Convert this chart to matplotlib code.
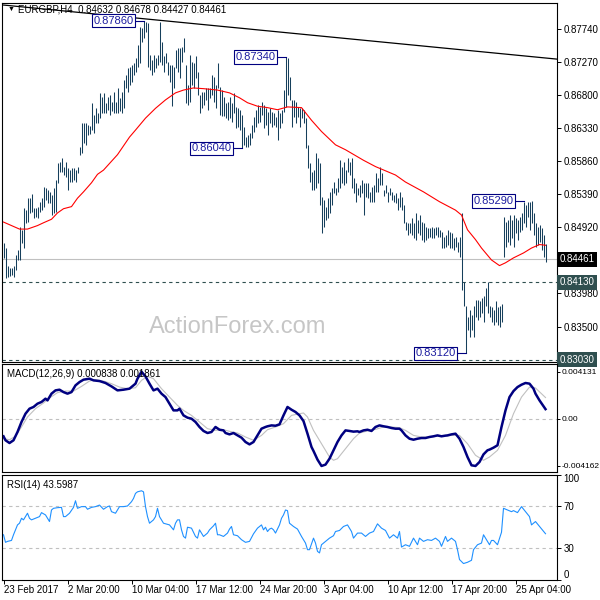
"""EURGBP H4 bar chart with MA, MACD and RSI panels, MT4 style."""

import matplotlib
matplotlib.use("Agg")
import matplotlib.pyplot as plt

plt.rcParams["font.family"] = ["Liberation Sans", "DejaVu Sans"]
plt.rcParams["font.size"] = 7

# ---- values ----
symbol = "EURGBP,H4"
last_ohlc = [0.84632, 0.84678, 0.84427, 0.84461]

bar_high = [
    0.8469, 0.8462, 0.8436, 0.8433, 0.8433, 0.8436, 0.8452, 0.8459, 0.8492, 0.8488,
    0.8519, 0.8516, 0.8533, 0.8533, 0.8539, 0.8519, 0.8519, 0.8520, 0.8528, 0.8533,
    0.8549, 0.8547, 0.8545, 0.8542, 0.8538, 0.8547, 0.8559, 0.8583, 0.8584, 0.8590,
    0.8577, 0.8584, 0.8576, 0.8573, 0.8576, 0.8576, 0.8573, 0.8577, 0.8606, 0.8640,
    0.8640, 0.8640, 0.8637, 0.8636, 0.8669, 0.8652, 0.8662, 0.8655, 0.8683, 0.8677,
    0.8683, 0.8669, 0.8677, 0.8680, 0.8670, 0.8684, 0.8670, 0.8690, 0.8676, 0.8684,
    0.8701, 0.8708, 0.8718, 0.8720, 0.8723, 0.8726, 0.8733, 0.8751, 0.8777, 0.8775,
    0.8786, 0.8784, 0.8782, 0.8737, 0.8730, 0.8737, 0.8733, 0.8737, 0.8784, 0.8756,
    0.8735, 0.8740, 0.8727, 0.8723, 0.8723, 0.8720, 0.8744, 0.8747, 0.8747, 0.8748,
    0.8761, 0.8723, 0.8694, 0.8737, 0.8727, 0.8726, 0.8735, 0.8713, 0.8680, 0.8684,
    0.8684, 0.8690, 0.8690, 0.8690, 0.8708, 0.8706, 0.8694, 0.8726, 0.8692, 0.8687,
    0.8677, 0.8669, 0.8670, 0.8677, 0.8669, 0.8683, 0.8663, 0.8662, 0.8659, 0.8652,
    0.8634, 0.8620, 0.8623, 0.8626, 0.8637, 0.8649, 0.8659, 0.8666, 0.8663, 0.8670,
    0.8666, 0.8662, 0.8656, 0.8662, 0.8656, 0.8655, 0.8649, 0.8659, 0.8655, 0.8659,
    0.8687, 0.8734, 0.8733, 0.8706, 0.8673, 0.8673, 0.8670, 0.8663, 0.8662, 0.8662,
    0.8659, 0.8647, 0.8609, 0.8583, 0.8570, 0.8573, 0.8597, 0.8590, 0.8583, 0.8535,
    0.8530, 0.8520, 0.8533, 0.8542, 0.8547, 0.8556, 0.8547, 0.8562, 0.8587, 0.8577,
    0.8584, 0.8573, 0.8590, 0.8584, 0.8590, 0.8562, 0.8555, 0.8547, 0.8552, 0.8559,
    0.8555, 0.8555, 0.8555, 0.8542, 0.8549, 0.8552, 0.8569, 0.8562, 0.8577, 0.8569,
    0.8545, 0.8552, 0.8542, 0.8547, 0.8542, 0.8538, 0.8540, 0.8533, 0.8542, 0.8535,
    0.8523, 0.8499, 0.8498, 0.8498, 0.8505, 0.8498, 0.8512, 0.8502, 0.8509, 0.8499,
    0.8498, 0.8492, 0.8491, 0.8491, 0.8492, 0.8491, 0.8492, 0.8492, 0.8488, 0.8485,
    0.8478, 0.8481, 0.8488, 0.8485, 0.8484, 0.8476, 0.8478, 0.8471, 0.8478, 0.8512,
    0.8414, 0.8380, 0.8364, 0.8374, 0.8367, 0.8380, 0.8388, 0.8388, 0.8386, 0.8391,
    0.8393, 0.8405, 0.8413, 0.8380, 0.8378, 0.8374, 0.8386, 0.8378, 0.8380, 0.8383,
    0.8506, 0.8499, 0.8502, 0.8509, 0.8502, 0.8509, 0.8505, 0.8502, 0.8506, 0.8512,
    0.8528, 0.8523, 0.8528, 0.8528, 0.8529, 0.8512, 0.8498, 0.8492, 0.8495, 0.8491,
    0.8481, 0.84678,
]
bar_low = [
    0.8448, 0.8419, 0.8421, 0.8422, 0.8424, 0.8421, 0.8431, 0.8445, 0.8445, 0.8469,
    0.8462, 0.8498, 0.8499, 0.8512, 0.8513, 0.8505, 0.8506, 0.8505, 0.8513, 0.8516,
    0.8520, 0.8530, 0.8526, 0.8526, 0.8509, 0.8512, 0.8513, 0.8555, 0.8570, 0.8570,
    0.8566, 0.8563, 0.8545, 0.8556, 0.8556, 0.8559, 0.8556, 0.8569, 0.8595, 0.8598,
    0.8612, 0.8609, 0.8623, 0.8624, 0.8630, 0.8626, 0.8640, 0.8640, 0.8647, 0.8655,
    0.8654, 0.8655, 0.8659, 0.8652, 0.8657, 0.8654, 0.8655, 0.8655, 0.8657, 0.8655,
    0.8662, 0.8690, 0.8684, 0.8694, 0.8699, 0.8708, 0.8713, 0.8720, 0.8726, 0.8756,
    0.8761, 0.8770, 0.8720, 0.8716, 0.8708, 0.8713, 0.8718, 0.8723, 0.8727, 0.8723,
    0.8713, 0.8726, 0.8708, 0.8699, 0.8664, 0.8690, 0.8718, 0.8713, 0.8704, 0.8727,
    0.8741, 0.8669, 0.8666, 0.8670, 0.8694, 0.8690, 0.8704, 0.8680, 0.8655, 0.8662,
    0.8666, 0.8673, 0.8659, 0.8676, 0.8680, 0.8670, 0.8662, 0.8690, 0.8652, 0.8650,
    0.8650, 0.8647, 0.8644, 0.8647, 0.8642, 0.8655, 0.8633, 0.8634, 0.8630, 0.8604,
    0.8609, 0.8606, 0.8606, 0.8609, 0.8619, 0.8627, 0.8634, 0.8640, 0.8642, 0.8652,
    0.8633, 0.8637, 0.8623, 0.8640, 0.8634, 0.8637, 0.8634, 0.8616, 0.8633, 0.8640,
    0.8656, 0.8663, 0.8680, 0.8673, 0.8634, 0.8649, 0.8640, 0.8649, 0.8634, 0.8647,
    0.8640, 0.8604, 0.8576, 0.8556, 0.8545, 0.8545, 0.8548, 0.8555, 0.8523, 0.8483,
    0.8492, 0.8502, 0.8505, 0.8512, 0.8523, 0.8541, 0.8538, 0.8542, 0.8547, 0.8555,
    0.8552, 0.8555, 0.8570, 0.8566, 0.8547, 0.8541, 0.8528, 0.8538, 0.8535, 0.8541,
    0.8509, 0.8535, 0.8533, 0.8528, 0.8528, 0.8528, 0.8542, 0.8542, 0.8552, 0.8552,
    0.8536, 0.8541, 0.8528, 0.8538, 0.8530, 0.8528, 0.8526, 0.8516, 0.8520, 0.8516,
    0.8498, 0.8488, 0.8481, 0.8484, 0.8481, 0.8476, 0.8474, 0.8484, 0.8481, 0.8474,
    0.8471, 0.8474, 0.8476, 0.8478, 0.8476, 0.8476, 0.8481, 0.8478, 0.8478, 0.8462,
    0.8462, 0.8464, 0.8466, 0.8462, 0.8462, 0.8459, 0.8464, 0.8457, 0.8449, 0.8402,
    0.8380, 0.8312, 0.8345, 0.8335, 0.8345, 0.8335, 0.8364, 0.8360, 0.8364, 0.8370,
    0.8357, 0.8380, 0.8370, 0.8364, 0.8357, 0.8353, 0.8356, 0.8353, 0.8350, 0.8356,
    0.8449, 0.8464, 0.8471, 0.8466, 0.8476, 0.8464, 0.8484, 0.8474, 0.8485, 0.8488,
    0.8498, 0.8492, 0.8506, 0.8488, 0.8498, 0.8481, 0.8464, 0.8466, 0.8471, 0.8459,
    0.8449, 0.84427,
]

# moving average (red), sampled along the drawn curve
ma_bar = [0, 4, 8, 12, 17, 20, 24, 27, 30, 34, 37, 40, 44, 47, 50, 57, 63, 66, 71, 76,
          81, 86, 90, 95, 100, 107, 113, 118, 122, 127, 132, 137, 142, 149, 154, 159, 166,
          171, 180, 186, 196, 201, 210, 218, 226, 229, 232, 236, 239, 244, 248, 251, 255,
          260, 264, 268, 271]
ma_price = [0.8499, 0.8494, 0.8489, 0.8489, 0.8494, 0.8498, 0.8503, 0.8512, 0.8518, 0.8521,
            0.8533, 0.8542, 0.8555, 0.8567, 0.8573, 0.8595, 0.8620, 0.8630, 0.8647, 0.8661,
            0.8673, 0.8683, 0.8687, 0.8690, 0.8689, 0.8687, 0.8683, 0.8676, 0.8669, 0.8664,
            0.8662, 0.8659, 0.8663, 0.8662, 0.8644, 0.8628, 0.8609, 0.8602, 0.8587, 0.8578,
            0.8566, 0.8556, 0.8542, 0.8528, 0.8516, 0.8509, 0.8488, 0.8474, 0.8462, 0.8445,
            0.8437, 0.8441, 0.8448, 0.8455, 0.8462, 0.8467, 0.8466]

trend_bar = [65, 277]
trend_price = [0.8790, 0.8731]

price_ticks = [0.87740, 0.87270, 0.86800, 0.86330, 0.85860, 0.85390, 0.84920, 0.83980, 0.83500]
last_price = 0.84461
level_prices = [0.84130, 0.83030]

swing_bar = [70, 141, 119, 260, 231]
swing_price = [0.87860, 0.87340, 0.86040, 0.85290, 0.83120]

macd_bar = [0, 1, 3, 5, 7, 9, 11, 13, 15, 17,
            19, 21, 22, 24, 26, 28, 30, 32, 34, 36,
            38, 40, 43, 45, 48, 51, 54, 57, 60, 63,
            66, 67, 69, 71, 73, 75, 77, 79, 81, 83,
            85, 87, 88, 90, 92, 94, 96, 98, 100, 102,
            104, 106, 108, 110, 111, 113, 115, 117, 119, 121,
            123, 125, 127, 129, 131, 132, 134, 136, 138, 140,
            142, 144, 146, 148, 150, 152, 154, 155, 157, 159,
            161, 163, 165, 167, 169, 171, 173, 175, 177, 178,
            180, 182, 184, 186, 188, 190, 192, 194, 196, 198,
            199, 201, 203, 205, 207, 209, 211, 213, 215, 217,
            219, 221, 222, 224, 226, 228, 230, 232, 234, 236,
            238, 240, 242, 243, 245, 247, 249, 251, 253, 255,
            257, 259, 261, 263, 265, 266, 268, 271]
macd_val = [-0.00155, -0.00190, -0.00214, -0.00190, -0.00117, -0.00029, 0.00044, 0.00088, 0.00103, 0.00132,
            0.00147, 0.00176, 0.00161, 0.00220, 0.00249, 0.00255, 0.00234, 0.00220, 0.00234, 0.00293,
            0.00322, 0.00343, 0.00352, 0.00337, 0.00331, 0.00314, 0.00284, 0.00249, 0.00255, 0.00264,
            0.00308, 0.00352, 0.00413, 0.00372, 0.00308, 0.00249, 0.00264, 0.00220, 0.00190, 0.00132,
            0.00073, 0.00073, 0.00088, 0.00029, 0.00009, 0.00000, -0.00029, -0.00073, -0.00108, -0.00126,
            -0.00117, -0.00073, -0.00097, -0.00103, -0.00126, -0.00138, -0.00126, -0.00147, -0.00167, -0.00205,
            -0.00226, -0.00205, -0.00147, -0.00088, -0.00073, -0.00067, -0.00059, -0.00062, -0.00050, 0.00029,
            0.00103, 0.00079, 0.00059, 0.00029, -0.00021, -0.00132, -0.00249, -0.00284, -0.00360, -0.00416,
            -0.00404, -0.00352, -0.00278, -0.00205, -0.00147, -0.00103, -0.00108, -0.00114, -0.00111, -0.00117,
            -0.00103, -0.00097, -0.00108, -0.00073, -0.00059, -0.00067, -0.00073, -0.00082, -0.00088, -0.00088,
            -0.00103, -0.00147, -0.00176, -0.00185, -0.00176, -0.00170, -0.00170, -0.00161, -0.00155, -0.00147,
            -0.00155, -0.00149, -0.00147, -0.00138, -0.00132, -0.00176, -0.00249, -0.00337, -0.00410, -0.00416,
            -0.00381, -0.00314, -0.00278, -0.00272, -0.00255, -0.00234, -0.00073, 0.00073, 0.00190, 0.00243,
            0.00278, 0.00299, 0.00314, 0.00308, 0.00264, 0.00220, 0.00161, 0.00084]

signal_bar = [0, 3, 6, 9, 12, 16, 20, 23, 27, 31,
              35, 39, 43, 46, 50, 54, 58, 62, 66, 69,
              72, 75, 79, 83, 87, 90, 94, 98, 102, 106,
              110, 113, 117, 121, 125, 129, 132, 136, 140, 144,
              148, 150, 152, 155, 159, 163, 165, 167, 171, 175,
              178, 182, 186, 190, 194, 198, 201, 205, 209, 213,
              217, 220, 224, 228, 232, 236, 240, 243, 247, 251,
              255, 259, 263, 266, 271]
signal_val = [-0.00176, -0.00185, -0.00155, -0.00073, 0.00015, 0.00088, 0.00138, 0.00182, 0.00229, 0.00243,
              0.00243, 0.00284, 0.00331, 0.00343, 0.00331, 0.00308, 0.00278, 0.00264, 0.00272, 0.00337,
              0.00372, 0.00352, 0.00264, 0.00190, 0.00117, 0.00073, 0.00029, -0.00029, -0.00088, -0.00103,
              -0.00097, -0.00111, -0.00126, -0.00161, -0.00190, -0.00147, -0.00097, -0.00073, -0.00044, 0.00029,
              0.00044, 0.00050, 0.00015, -0.00103, -0.00220, -0.00337, -0.00366, -0.00352, -0.00264, -0.00176,
              -0.00126, -0.00108, -0.00094, -0.00073, -0.00073, -0.00079, -0.00103, -0.00147, -0.00161, -0.00161,
              -0.00155, -0.00155, -0.00147, -0.00147, -0.00220, -0.00322, -0.00366, -0.00337, -0.00278, -0.00147,
              0.00044, 0.00190, 0.00278, 0.00270, 0.00186]

macd_title = "MACD(12,26,9) 0.000838 0.001861"
macd_ticks = [0.004131, 0.0, -0.004162]
macd_tick_labels = ["0.004131", "0.00", "-0.004162"]

rsi_bar = [0, 1, 2, 4, 5, 7, 8, 9, 10, 11,
           12, 13, 14, 16, 18, 19, 21, 22, 23, 24,
           25, 27, 29, 30, 31, 33, 35, 36, 37, 39,
           41, 42, 44, 46, 48, 50, 52, 53, 54, 56,
           58, 60, 62, 64, 65, 66, 67, 69, 70, 71,
           72, 73, 75, 76, 77, 78, 80, 83, 85, 86,
           87, 88, 89, 90, 91, 92, 94, 96, 97, 98,
           99, 100, 102, 103, 105, 106, 107, 108, 110, 112,
           113, 114, 115, 117, 119, 121, 123, 125, 127, 129,
           130, 131, 132, 133, 134, 135, 136, 138, 139, 140,
           141, 142, 143, 145, 147, 149, 151, 152, 153, 155,
           156, 157, 158, 159, 161, 163, 165, 166, 168, 170,
           172, 174, 175, 177, 179, 181, 183, 185, 187, 189,
           191, 193, 195, 197, 198, 199, 201, 203, 205, 206,
           207, 208, 210, 212, 214, 216, 218, 219, 221, 222,
           224, 226, 227, 228, 230, 232, 234, 235, 237, 239,
           240, 242, 243, 244, 245, 247, 249, 250, 252, 254,
           255, 257, 259, 261, 263, 264, 266, 268, 271]
rsi_val = [42.6, 35.4, 36.3, 37.2, 42.6, 52.0, 53.6, 58.3, 56.8, 59.9,
           63.1, 58.3, 56.8, 58.3, 59.9, 63.7, 61.5, 58.3, 55.2, 66.2,
           67.8, 68.4, 68.7, 59.9, 59.9, 63.1, 68.7, 75.0, 67.8, 69.4,
           69.4, 66.9, 68.7, 69.4, 70.9, 66.9, 69.4, 70.0, 64.6, 63.1,
           69.4, 69.4, 70.0, 74.1, 77.2, 82.0, 83.5, 84.5, 83.5, 69.4,
           59.9, 53.6, 56.8, 59.9, 67.8, 59.9, 53.6, 52.0, 47.3, 53.6,
           56.8, 56.8, 47.3, 41.0, 39.4, 49.8, 48.9, 41.0, 39.4, 47.3,
           44.2, 41.0, 44.2, 47.3, 51.1, 53.6, 42.6, 42.6, 41.0, 44.2,
           48.0, 50.5, 42.6, 41.7, 37.9, 35.4, 36.3, 43.5, 48.9, 52.0,
           47.3, 49.8, 45.7, 48.0, 48.9, 47.3, 44.2, 52.0, 58.3, 61.5,
           66.2, 65.6, 53.6, 50.5, 48.0, 41.0, 34.7, 28.4, 28.4, 39.4,
           34.7, 26.8, 25.3, 33.1, 36.3, 39.4, 41.7, 45.7, 46.7, 50.5,
           52.0, 45.7, 39.4, 44.2, 44.2, 41.0, 44.2, 45.7, 53.0, 48.9,
           46.7, 39.4, 42.6, 39.4, 45.7, 30.9, 33.1, 31.6, 39.4, 36.3,
           33.1, 39.4, 36.3, 37.9, 37.2, 39.4, 36.3, 31.6, 41.0, 36.3,
           39.4, 36.3, 28.4, 19.0, 15.2, 16.4, 18.3, 28.4, 33.1, 34.7,
           42.6, 36.3, 33.1, 37.2, 37.2, 33.1, 45.0, 67.8, 66.2, 64.6,
           65.6, 63.7, 69.4, 64.6, 59.9, 52.0, 55.2, 50.5, 43.6]
rsi_title = "RSI(14) 43.5987"
rsi_ticks = [100, 70, 30, 0]

date_bar = [0, 32, 64, 96, 128, 160, 192, 224, 256]
date_labels = ["23 Feb 2017", "2 Mar 20:00", "10 Mar 04:00", "17 Mar 12:00", "24 Mar 20:00",
               "3 Apr 04:00", "10 Apr 12:00", "17 Apr 20:00", "25 Apr 04:00"]

# ---- layout (pixel boxes measured from the top-left of a 600x600 canvas) ----
W = H = 600.0


def _box(x0, y0, x1, y1):
    return [x0 / W, 1 - y1 / H, (x1 - x0) / W, (y1 - y0) / H]


fig = plt.figure(figsize=(6, 6), dpi=100)
ax = fig.add_axes(_box(2, 3, 557, 362))
macd_ax = fig.add_axes(_box(2, 364, 557, 472))
rsi_ax = fig.add_axes(_box(2, 474.5, 557, 579.5))

for a in (ax, macd_ax, rsi_ax):
    a.set_xlim(-0.75, 276.75)
    a.yaxis.tick_right()
    a.tick_params(axis="y", length=3, width=0.7, pad=1.5, labelsize=7)
    a.tick_params(axis="x", bottom=False, labelbottom=False)
    for spine in a.spines.values():
        spine.set_linewidth(0.8)

# main price panel
ax.set_ylim(0.82997, 0.88110)
ax.axhline(last_price, color="#c0c0c0", lw=0.8, zorder=1)
for level in level_prices:
    ax.axhline(level, color="#2f4f4f", lw=0.8, ls=(0, (3, 3)), zorder=1)
ax.vlines(range(len(bar_high)), bar_low, bar_high, colors="#163f5c", linewidth=0.75, zorder=2)
ax.plot(ma_bar, ma_price, color="red", lw=0.8, zorder=3)
ax.axline((trend_bar[0], trend_price[0]), (trend_bar[1], trend_price[1]), color="black", lw=0.9, zorder=3)
ax.set_yticks(price_ticks, [f"{p:.5f}" for p in price_ticks])

ytrans = ax.get_yaxis_transform()
ax.text(1.004, last_price, f"{last_price:.5f}", transform=ytrans, ha="left", va="center",
        color="white", fontsize=7, clip_on=False,
        bbox=dict(boxstyle="square,pad=0.25", fc="black", ec="none"))
for level in level_prices:
    ax.text(1.004, level, f"{level:.5f}", transform=ytrans, ha="left", va="center",
            color="white", fontsize=7, clip_on=False,
            bbox=dict(boxstyle="square,pad=0.25", fc="#2f4f4f", ec="none"))

for b, p in zip(swing_bar, swing_price):
    end = b - 5
    ax.plot([end, b], [p, p], color="#000080", lw=0.8, zorder=4)
    ax.text(end, p, f"{p:.5f}", ha="right", va="center", color="#1c1ca0", fontsize=8, zorder=5,
            bbox=dict(boxstyle="square,pad=0.15", fc="white", ec="#000080", lw=0.8))

ax.text(0.010, 0.981, "\u25bc", transform=ax.transAxes, fontsize=5, va="center", ha="left")
ax.text(0.028, 0.981, f"{symbol}  " + " ".join(f"{v:.5f}" for v in last_ohlc),
        transform=ax.transAxes, fontsize=7, va="center", ha="left")
ax.text(0.425, 0.098, "ActionForex.com", transform=ax.transAxes, fontsize=17,
        color="#c6c6c6", ha="center", va="center", zorder=0)

# MACD panel (labels a touch smaller so the long ones fit the canvas)
macd_ax.set_ylim(-0.00469, 0.00481)
macd_ax.axhline(0, color="#c0c0c0", lw=0.8, ls=(0, (3, 3)))
macd_ax.plot(signal_bar, signal_val, color="#c0c0c0", lw=0.8)
macd_ax.plot(macd_bar, macd_val, color="#000080", lw=1.8)
macd_ax.set_yticks(macd_ticks, macd_tick_labels)
macd_ax.tick_params(axis="y", length=2, pad=1, labelsize=6)
macd_ax.text(0.009, 0.905, macd_title, transform=macd_ax.transAxes, va="center", fontsize=7)

# RSI panel
rsi_ax.set_ylim(0, 100)
for level in (70, 30):
    rsi_ax.axhline(level, color="#c0c0c0", lw=0.8, ls=(0, (3, 3)))
rsi_ax.plot(rsi_bar, rsi_val, color="#1e90ff", lw=0.8)
rsi_ax.set_yticks(rsi_ticks, [str(t) for t in rsi_ticks])
rsi_labels = rsi_ax.get_yticklabels()
rsi_labels[0].set_va("top")
rsi_labels[-1].set_va("bottom")
rsi_ax.text(0.009, 0.9, rsi_title, transform=rsi_ax.transAxes, va="center", fontsize=7)

rsi_ax.tick_params(axis="x", bottom=True, labelbottom=True, length=3, width=0.7, pad=1, labelsize=7)
rsi_ax.set_xticks(date_bar, date_labels, ha="left")

fig.savefig("out.png", dpi=100)
